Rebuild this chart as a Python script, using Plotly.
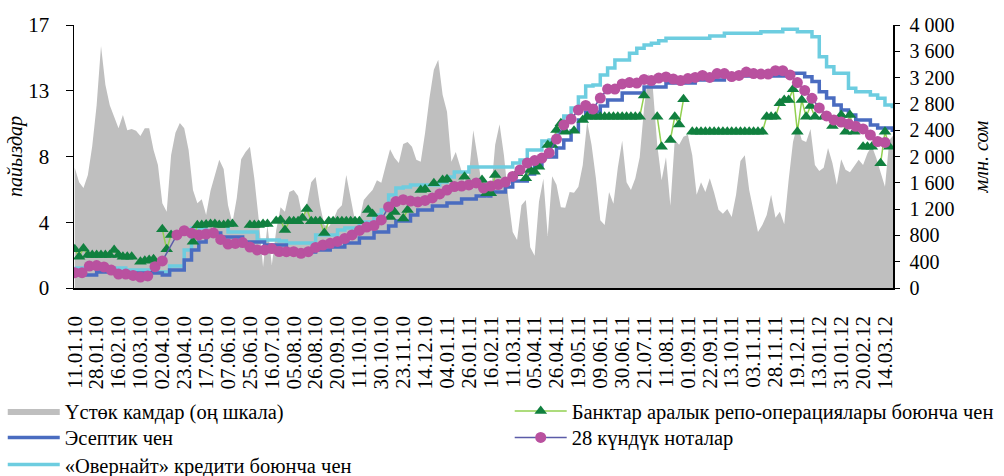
import plotly.graph_objects as go

# ---------------- data ----------------
x_labels = ["11.01.10", "28.01.10", "16.02.10", "10.03.10", "02.04.10", "23.04.10",
            "17.05.10", "07.06.10", "25.06.10", "16.07.10", "05.08.10", "26.08.10",
            "20.09.10", "11.10.10", "30.10.10", "23.11.10", "14.12.10", "04.01.11",
            "26.01.11", "16.02.11", "11.03.11", "05.04.11", "26.04.11", "19.05.11",
            "09.06.11", "30.06.11", "21.07.11", "11.08.11", "01.09.11", "22.09.11",
            "13.10.11", "03.11.11", "28.11.11", "19.12.11", "13.01.12", "31.01.12",
            "20.02.12", "14.03.12"]

# excess reserves, mln som (right scale), sampled every 3rd trading day
reserves = [1830, 1610, 1520, 1720, 2160, 2780, 3680, 3090, 2780, 2600,
            2430, 2630, 2400, 2420, 2390, 2310, 2430, 2430, 2100, 1870,
            1290, 1160, 2020, 2360, 2510, 2430, 2100, 1490, 1290, 1350,
            1110, 1480, 1700, 1950, 1810, 1260, 990, 1370, 1960, 2070,
            2150, 1670, 1050, 320, 960, 350, 880, 1230, 1160, 1460,
            1490, 1400, 1080, 1260, 1610, 1690, 1260, 960, 930, 1030,
            1190, 1260, 1720, 1340, 1020, 1030, 1340, 1420, 1490, 1640,
            1600, 1860, 2110, 1980, 1900, 2190, 2220, 2150, 1950, 1920,
            2360, 2890, 3320, 3470, 2940, 2680, 1920, 2070, 1830, 1630,
            1720, 2400, 1980, 1540, 1370, 1420, 2180, 2490, 2020, 1370,
            850, 730, 1260, 1340, 620, 490, 1310, 1660, 790, 1700,
            1570, 1230, 1220, 1460, 1450, 1540, 1870, 2530, 2180, 1670,
            1030, 960, 1460, 1280, 1830, 2240, 1610, 1490, 1670, 1990,
            2740, 3260, 3040, 2180, 1640, 1990, 1250, 2250, 2180, 2300,
            2330, 2020, 1420, 1610, 1460, 1670, 1450, 1190, 1130, 1200,
            1080, 1420, 1930, 2020, 1490, 1160, 850, 960, 1110, 1420,
            1070, 1160, 970, 1640, 2220, 2490, 2250, 2220, 2420, 1870,
            1780, 1830, 2130, 1900, 1570, 1960, 1800, 1760, 1860, 1950,
            1870, 2050, 2160, 1980, 1760, 1540, 2250, 2330]

# interbank repo rate, %, every 3rd trading day (None = no deals)
repo_rate = [2.50, 2.02, 2.56, 2.13, 2.13, 2.13, 2.13, 2.13, 2.13, 2.46,
             2.13, 2.02, 2.02, 2.02, None, 1.70, 1.76, 1.81, 1.86, None,
             3.79, 2.50, 3.43, None, None, None, None, 2.99, 4.05, 4.07,
             4.10, 4.14, 4.14, 4.07, 4.07, 4.14, 4.14, None, None, None,
             4.07, 4.07, 4.07, 4.14, 4.14, None, 4.33, 4.40, 3.75, 4.31,
             4.31, 4.31, 4.52, 5.11, 4.31, 4.31, 4.31, 3.56, 4.31, 4.31,
             4.31, 4.31, 4.31, 4.31, 4.31, 4.31, None, 5.04, 4.78, None,
             None, None, 4.59, 4.91, None, 4.50, 5.04, None, None, 6.33,
             6.38, None, 6.77, None, 6.98, 7.03, None, None, None, 7.19,
             None, None, None, 6.98, 6.12, 6.12, 7.30, None, None, None,
             None, 7.41, None, 7.09, 7.63, 7.52, 7.84, None, 9.24, 9.24,
             10.21, 10.65, 10.10, None, 10.16, None, 10.86, 11.07, 11.07, 11.07,
             11.07, 11.07, 11.07, 11.07, 11.07, 11.07, 11.07, 11.07, 11.07, 11.07,
             12.45, None, None, 11.07, 9.13, None, 9.57, 11.07, 10.57, 12.20,
             None, 10.10, 10.10, 10.10, 10.10, 10.10, 10.10, 10.10, 10.10, 10.10,
             10.10, 10.10, 10.10, 10.10, 10.10, 10.10, 10.10, 10.10, 11.07, 11.07,
             11.07, 11.94, 12.15, 12.15, 12.84, 10.10, 12.15, 11.07, 11.76, 11.07,
             None, 11.07, None, 10.47, None, 11.18, 10.10, 11.18, 10.10, None,
             9.13, 9.13, 9.13, None, 8.06, 10.10, 9.13, None]

# weekly series, %, every 5th trading day
discount_rate = [0.84, 0.84, 0.84, 1.03, 1.03, 0.97, 0.97, 0.97, 0.97, 0.97,
                 0.97, 0.97, 0.84, 1.16, 1.16, 1.81, 2.46, 2.97, 3.56, 3.56,
                 3.30, 3.30, 3.30, 2.97, 2.97, 2.97, 2.78, 2.78, 2.78, 2.33,
                 2.33, 2.33, 2.33, 2.46, 2.46, 2.65, 2.65, 2.91, 2.91, 3.23,
                 3.23, 3.62, 3.62, 4.01, 4.33, 4.33, 4.72, 5.04, 5.04, 5.30,
                 5.30, 5.49, 5.49, 5.75, 5.75, 5.95, 5.95, 6.21, 6.21, 6.53,
                 6.92, 6.92, 7.37, 7.89, 8.47, 8.47, 9.05, 9.57, 10.15, 10.86,
                 11.38, 11.38, 11.76, 12.15, 12.15, 12.60, 12.60, 12.60, 12.99, 12.99,
                 12.99, 13.25, 13.25, 13.25, 13.25, 13.45, 13.45, 13.45, 13.45, 13.70,
                 13.70, 13.70, 13.70, 13.70, 13.70, 13.70, 13.70, 13.70, 13.88, 13.88,
                 13.66, 13.34, 12.69, 12.28, 11.83, 11.51, 11.18, 10.86, 10.86, 10.54,
                 10.34, 10.34, 10.08]

overnight_rate = [1.29, 1.29, 1.29, 1.29, 1.29, 1.29, 1.29, 1.16, 1.16, 1.16,
                  1.16, 1.03, 1.03, 1.42, 1.42, 2.46, 3.88, 3.88, 4.14, 4.14,
                  4.14, 3.62, 3.62, 3.62, 3.62, 3.10, 3.10, 3.10, 3.04, 2.91,
                  2.91, 2.91, 2.91, 3.43, 3.43, 3.43, 3.75, 3.88, 3.88, 4.27,
                  4.27, 4.72, 5.04, 6.01, 6.46, 6.53, 6.66, 6.66, 6.66, 6.66,
                  6.85, 7.18, 7.50, 7.50, 7.82, 7.82, 7.82, 7.82, 7.82, 7.82,
                  8.08, 8.27, 8.92, 8.92, 9.50, 9.57, 10.08, 11.12, 11.64, 12.35,
                  13.06, 13.12, 13.77, 14.22, 14.74, 14.74, 15.17, 15.49, 15.71, 15.82,
                  15.99, 16.14, 16.14, 16.14, 16.14, 16.14, 16.14, 16.29, 16.29, 16.46,
                  16.46, 16.46, 16.46, 16.46, 16.57, 16.57, 16.57, 16.72, 16.72, 16.57,
                  16.57, 16.24, 14.95, 14.30, 13.88, 13.88, 12.91, 12.69, 12.69, 12.48,
                  12.26, 11.83, 11.62]

notes_28d = [0.99, 0.99, 1.42, 1.45, 1.36, 1.16, 0.90, 0.90, 0.81, 0.71,
             0.78, 1.38, 1.75, None, 3.43, 3.70, 3.54, 3.43, 3.49, 3.56,
             3.14, 2.84, 2.88, 2.94, 2.65, 2.46, 2.46, 2.55, 2.36, 2.35,
             2.35, 2.24, 2.35, 2.62, 2.78, 2.89, 3.01, 3.20, 3.43, 3.72,
             3.94, 4.04, 4.40, 5.24, 5.59, 5.71, 5.62, 5.56, 5.66, 5.82,
             6.08, 6.33, 6.56, 6.59, 6.66, 6.79, 6.46, 6.59, 6.69, 6.85,
             7.21, 7.63, 8.08, 8.24, 8.40, 8.73, 9.63, 10.54, 10.92, 11.51,
             11.80, 11.57, 12.28, 12.86, 12.86, 13.19, 13.28, 13.25, 13.48, 13.41,
             13.57, 13.64, 13.51, 13.41, 13.54, 13.61, 13.74, 13.61, 13.86, 13.86,
             13.67, 13.74, 13.96, 13.86, 13.83, 13.83, 14.05, 14.05, 13.77, 13.28,
             12.77, 12.26, 11.64, 11.12, 10.86, 10.73, 10.60, 10.45, 10.28, 9.89,
             9.47, 9.41, None]

DAILY_STEP = 3      # trading days between daily samples
WEEKLY_STEP = 5     # trading days between weekly samples
LABEL_EVERY = 15    # trading days between axis labels
N_DAYS = 561

x_daily = [i * DAILY_STEP for i in range(len(reserves))]
x_weekly = [i * WEEKLY_STEP for i in range(len(discount_rate))]
tick_pos = [i * LABEL_EVERY for i in range(len(x_labels))]

left_ticks = [0, 4.25, 8.5, 12.75, 17]
left_text = ["0", "4", "8", "13", "17"]
right_ticks = list(range(0, 4001, 400))
right_text = [f"{v:,}".replace(",", "\u00a0") for v in right_ticks]

FONT = "Liberation Serif"

fig = go.Figure()

fig.add_trace(go.Scatter(
    x=x_daily, y=reserves, name="Үстөк камдар (оң шкала)",
    mode="lines", fill="tozeroy", fillcolor="#BFBFBF",
    line=dict(width=0, color="#BFBFBF"), yaxis="y",
    legend="legend", showlegend=True))

fig.add_trace(go.Scatter(
    x=x_weekly, y=overnight_rate, name="«Овернайт» кредити боюнча чен",
    mode="lines", line=dict(color="#6DCDE0", width=3.5, shape="hv"),
    yaxis="y2", legend="legend5", showlegend=True))

fig.add_trace(go.Scatter(
    x=x_weekly, y=discount_rate, name="Эсептик чен",
    mode="lines", line=dict(color="#4A6CC0", width=3.5, shape="hv"),
    yaxis="y2", legend="legend3", showlegend=True))

fig.add_trace(go.Scatter(
    x=x_daily, y=repo_rate, name="Банктар аралык репо-операциялары боюнча чен",
    mode="lines+markers", line=dict(color="#92D050", width=1.5),
    marker=dict(symbol="triangle-up", size=11, color="#11803F", line=dict(width=0)),
    yaxis="y2", legend="legend2", showlegend=True))

fig.add_trace(go.Scatter(
    x=x_weekly, y=notes_28d, name="28 күндүк ноталар",
    mode="lines+markers", connectgaps=True, line=dict(color="#5B5BA8", width=1.5),
    marker=dict(symbol="circle", size=11, color="#B9519F", line=dict(width=0)),
    yaxis="y2", legend="legend4", showlegend=True))


def legend_box(x, y):
    return dict(x=x, xanchor="left", y=y, yanchor="top", orientation="v",
                font=dict(size=20.5), itemwidth=52, bgcolor="rgba(0,0,0,0)",
                tracegroupgap=0, visible=True)


col1, col2 = -0.087, 0.532
row1, row2, row3 = -0.392, -0.493, -0.596

fig.update_layout(
    width=1004, height=476,
    showlegend=True,
    margin=dict(l=74, r=111, t=25, b=188, autoexpand=False),
    paper_bgcolor="white", plot_bgcolor="white",
    font=dict(family=FONT, size=20, color="black"),
    xaxis=dict(range=[-0.5, N_DAYS - 0.5], tickmode="array", tickvals=tick_pos,
               ticktext=x_labels, tickangle=-90, tickfont=dict(size=21),
               showline=True, linecolor="black", linewidth=1.5,
               ticks="outside", ticklen=16, tickcolor="rgba(0,0,0,0)",
               showgrid=False, zeroline=False, ticklabelstandoff=2,
               automargin=False),
    yaxis=dict(range=[0, 4000], side="right", tickmode="array", tickvals=right_ticks,
               ticktext=right_text, ticks="outside", ticklen=5, tickcolor="black",
               showline=True, linecolor="black", linewidth=1.5, showgrid=False,
               zeroline=False, tickfont=dict(size=20), ticklabelstandoff=6,
               automargin=False,
               title=dict(text="<i>млн. сом</i>", font=dict(size=20), standoff=20)),
    yaxis2=dict(range=[0, 17], side="left", overlaying="y", tickmode="array",
                tickvals=left_ticks, ticktext=left_text, ticks="outside", ticklen=7,
                tickcolor="black", showline=True, linecolor="black", linewidth=1.5,
                showgrid=False, zeroline=False, tickfont=dict(size=21),
                ticklabelstandoff=12, automargin=False,
                title=dict(text="<i>пайыздар</i>", font=dict(size=20), standoff=0)),
    legend=legend_box(col1, row1),
    legend2=legend_box(col2, row1),
    legend3=legend_box(col1, row2),
    legend4=legend_box(col2, row2),
    legend5=legend_box(col1, row3),
)

fig.write_html("out.html",
               config={"displayModeBar": False, "staticPlot": True},
               post_script="document.body.style.margin='0px';"
                           "document.body.style.overflow='hidden';")
